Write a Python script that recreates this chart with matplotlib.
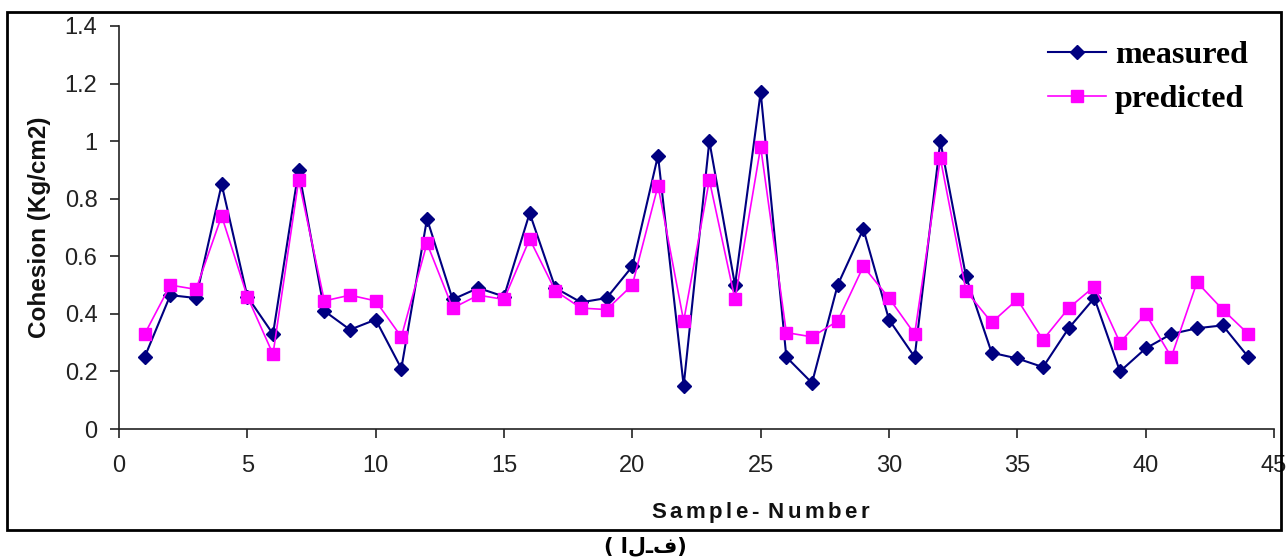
import numpy as np
import matplotlib
matplotlib.use("Agg")
import matplotlib.pyplot as plt
from matplotlib.patches import Rectangle
from matplotlib.ticker import FuncFormatter

# Cohesion per sample (Kg/cm2)
sample_no = list(range(1, 45))
measured = [0.25, 0.465, 0.455, 0.85, 0.46, 0.33, 0.90, 0.41, 0.345, 0.38,
            0.21, 0.73, 0.45, 0.49, 0.46, 0.75, 0.49, 0.44, 0.455, 0.565,
            0.95, 0.15, 1.00, 0.50, 1.17, 0.25, 0.16, 0.50, 0.695, 0.38,
            0.25, 1.00, 0.53, 0.265, 0.245, 0.215, 0.35, 0.455, 0.20, 0.28,
            0.33, 0.35, 0.36, 0.25]
predicted = [0.33, 0.50, 0.485, 0.74, 0.46, 0.26, 0.865, 0.445, 0.465, 0.445,
             0.32, 0.645, 0.42, 0.465, 0.45, 0.66, 0.48, 0.42, 0.415, 0.50,
             0.845, 0.375, 0.865, 0.45, 0.98, 0.335, 0.32, 0.375, 0.565, 0.455,
             0.33, 0.94, 0.48, 0.37, 0.45, 0.31, 0.42, 0.495, 0.30, 0.40,
             0.25, 0.51, 0.415, 0.33]
x_ticks = [0, 5, 10, 15, 20, 25, 30, 35, 40, 45]
y_ticks = [0, 0.2, 0.4, 0.6, 0.8, 1.0, 1.2, 1.4]

W, H = 1288, 559
fig = plt.figure(figsize=(W / 100, H / 100), dpi=100)
ax = fig.add_axes([119 / W, 1 - 429 / H, (1274 - 119) / W, (429 - 26) / H])

ax.plot(sample_no, measured, color="#000080", lw=1.5, marker="D", ms=7.2,
        label="measured")
ax.plot(sample_no, predicted, color="#FF00FF", lw=1.2, marker="s", ms=8.8,
        label="predicted")

ax.set_xlim(0, 45)
ax.set_ylim(0, 1.4)
ax.set_xticks(x_ticks)
ax.set_yticks(y_ticks)
ax.yaxis.set_major_formatter(FuncFormatter(lambda v, p: "%g" % v))
for side in ("top", "right"):
    ax.spines[side].set_visible(False)
for side in ("left", "bottom"):
    ax.spines[side].set_color("#222222")
    ax.spines[side].set_linewidth(1.2)
ax.tick_params(direction="out", length=6.5, width=1.2, color="#222222",
               labelcolor="#222222")
ax.tick_params(axis="x", pad=12)
ax.tick_params(axis="y", pad=9)
for lab in ax.get_xticklabels() + ax.get_yticklabels():
    lab.set_fontfamily("Liberation Sans")
    lab.set_fontsize(17)

ax.set_ylabel("Cohesion (Kg/cm2)", fontfamily="Liberation Sans",
              fontweight="bold", fontsize=17.5, color="#111111", labelpad=10)

leg = ax.legend(loc="upper left", bbox_to_anchor=(1048 / W, 1 - 41 / H),
                bbox_transform=fig.transFigure, frameon=False,
                prop={"family": "Liberation Serif", "weight": "bold", "size": 23},
                handlelength=1.8, handletextpad=0.3, labelspacing=0.45,
                borderaxespad=0, borderpad=0)


def spaced_text(cx, base_y, text, width_px, **kw):
    # draw text one glyph at a time so the letters can be spread out
    renderer = fig.canvas.get_renderer()
    pieces = []
    widths = []
    n_space = 0
    for ch in text:
        if ch == " ":
            n_space += 1
            pieces.append(None)
            widths.append(0)
            continue
        t = fig.text(0, 1 - base_y / H, ch, ha="left", va="baseline", **kw)
        pieces.append(t)
        widths.append(t.get_window_extent(renderer).width)
    space_w = 3
    gap = (width_px - sum(widths) - n_space * space_w) / (len(text) - 1)
    x = cx - width_px / 2
    for t, w in zip(pieces, widths):
        if t is None:
            x += space_w + gap
            continue
        t.set_x(x / W)
        x += w + gap


spaced_text(760, 518, "Sample- Number", 218, fontfamily="Liberation Sans",
            fontweight="bold", fontsize=16, color="#111111")

# outer frame around the chart
fig.add_artist(Rectangle((7 / W, 1 - 530 / H), (1281 - 7) / W, (530 - 12) / H,
                         transform=fig.transFigure, fill=False,
                         edgecolor="black", lw=2.0))

fig.text(645 / W, 1 - 546 / H, "( الـف)", ha="center", va="center",
         fontfamily="DejaVu Sans", fontweight="bold", fontsize=15, color="black")

fig.savefig("out.png", dpi=100)
